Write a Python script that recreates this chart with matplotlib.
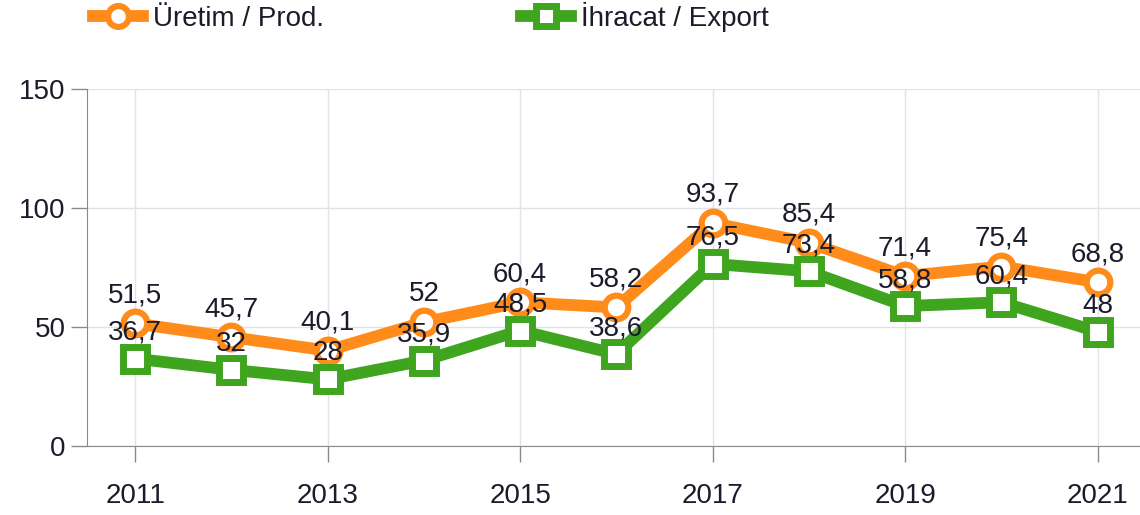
import matplotlib
matplotlib.use("Agg")
import matplotlib.pyplot as plt
from matplotlib.lines import Line2D

years = [2011, 2012, 2013, 2014, 2015, 2016, 2017, 2018, 2019, 2020, 2021]
uretim = [51.5, 45.7, 40.1, 52, 60.4, 58.2, 93.7, 85.4, 71.4, 75.4, 68.8]
ihracat = [36.7, 32, 28, 35.9, 48.5, 38.6, 76.5, 73.4, 58.8, 60.4, 48]
xticks = [2011, 2013, 2015, 2017, 2019, 2021]
yticks = [0, 50, 100, 150]
labels = ["Üretim / Prod.", "İhracat / Export"]

ORANGE = "#FF8C1A"
GREEN = "#3FA41E"
TXT = "#1b1b2b"
FS = 20

plt.rcParams['font.family'] = ['Liberation Sans', 'DejaVu Sans']

fig = plt.figure(figsize=(11.4, 5.15), dpi=100)
ax = fig.add_axes([87/1140, 69/515, 1 - 87/1140, (446-89)/515])

ax.plot(years, uretim, color=ORANGE, lw=8.5, marker='o', ms=17, mfc='white',
        mec=ORANGE, mew=4.5, zorder=3, solid_joinstyle='miter')
ax.plot(years, ihracat, color=GREEN, lw=8.5, marker='s', ms=17, mfc='white',
        mec=GREEN, mew=5, zorder=3, solid_joinstyle='miter')

def fmt(v):
    return ("%g" % v).replace('.', ',')

for x, v in zip(years, uretim):
    ax.annotate(fmt(v), (x, v), xytext=(0, 28), textcoords='offset pixels',
                ha='center', va='center', fontsize=FS, color=TXT, zorder=5)
for x, v in zip(years, ihracat):
    ax.annotate(fmt(v), (x, v), xytext=(0, 26), textcoords='offset pixels',
                ha='center', va='center', fontsize=FS, color=TXT, zorder=5)

ax.set_xlim(2010.5, 2021.44)
ax.set_ylim(0, 150)
ax.set_xticks(xticks)
ax.set_yticks(yticks)
ax.grid(True, color='#e3e3e3', lw=1, zorder=0)
ax.set_axisbelow(True)
for s in ['top', 'right']:
    ax.spines[s].set_visible(False)
ax.spines['left'].set_color('#8a8a8a')
ax.spines['bottom'].set_color('#8a8a8a')
ax.tick_params(axis='both', colors='#8a8a8a', labelcolor=TXT, labelsize=FS,
               length=11.5, width=1)
ax.tick_params(axis='x', pad=15)
ax.tick_params(axis='y', pad=4)

h1 = Line2D([], [], color=ORANGE, lw=8.5, marker='o', ms=15, mfc='white', mec=ORANGE, mew=4.5)
h2 = Line2D([], [], color=GREEN, lw=8.5, marker='s', ms=15, mfc='white', mec=GREEN, mew=5)
fig.legend([h1, h2], labels, loc='upper left', bbox_to_anchor=(68/1140, 1.045),
           ncol=2, frameon=False, fontsize=FS, handlelength=1.8, handletextpad=0.36,
           columnspacing=7.1, labelcolor=TXT)

fig.savefig("out.png", dpi=100)
